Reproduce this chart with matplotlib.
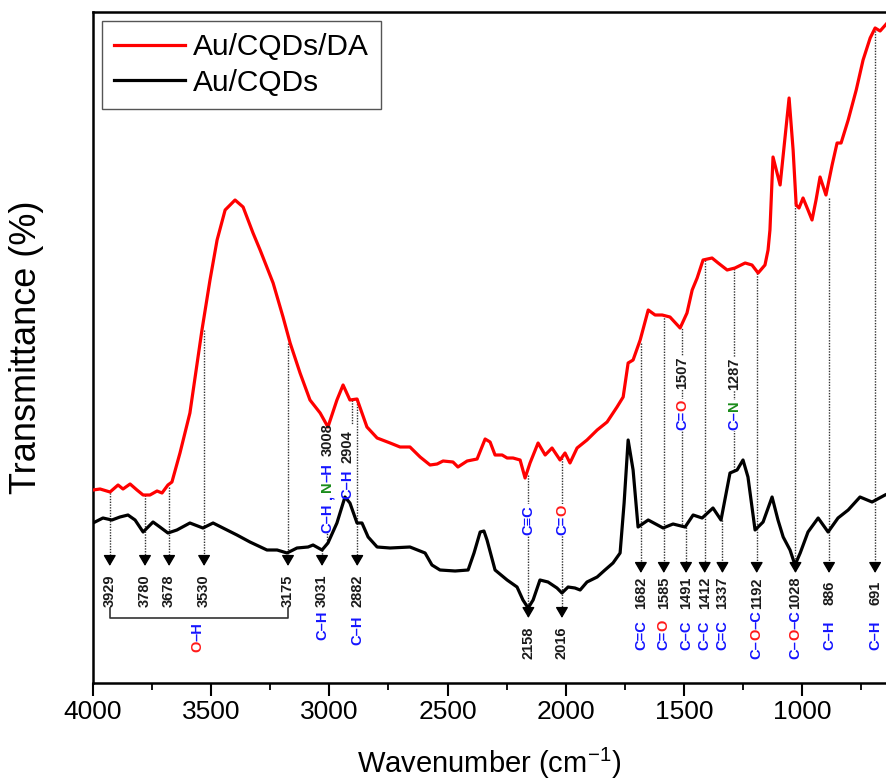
import matplotlib
matplotlib.use('Agg')
import matplotlib.pyplot as plt
from matplotlib.ticker import MultipleLocator

plt.rcParams['font.family'] = ['Liberation Sans', 'DejaVu Sans']
plt.rcParams['mathtext.fontset'] = 'custom'
plt.rcParams['mathtext.rm'] = 'Liberation Sans'

# Au/CQDs/DA (red) spectrum
red_wn = [4000, 3970, 3928, 3894, 3873, 3843, 3814, 3788, 3759, 3729, 3708, 3683, 3666,
          3632, 3590, 3539, 3505, 3475, 3441, 3399, 3365, 3323, 3293, 3238, 3196, 3166,
          3124, 3082, 3039, 3006, 2968, 2942, 2913, 2883, 2841, 2798, 2743, 2701, 2659,
          2616, 2574, 2544, 2519, 2477, 2456, 2417, 2375, 2341, 2320, 2299, 2269, 2248,
          2223, 2193, 2172, 2151, 2117, 2087, 2058, 2024, 2003, 1982, 1952, 1910, 1867,
          1825, 1783, 1757, 1736, 1715, 1685, 1651, 1622, 1592, 1559, 1516, 1487, 1465,
          1444, 1419, 1381, 1355, 1317, 1284, 1241, 1212, 1186, 1157, 1144, 1136, 1123,
          1093, 1072, 1055, 1038, 1025, 1013, 996, 975, 958, 941, 924, 899, 873, 852,
          835, 805, 771, 742, 712, 691, 670, 640]
red_t = [193, 194, 191, 198, 194, 199, 193, 188, 188, 192, 190, 198, 201,
         230, 270, 353, 403, 443, 473, 483, 476, 450, 433, 400, 366, 340,
         310, 283, 270, 256, 283, 298, 283, 284, 256, 245, 240, 236, 236,
         226, 218, 219, 222, 221, 216, 222, 224, 244, 241, 228, 228, 225,
         225, 223, 205, 220, 240, 228, 235, 223, 230, 220, 235, 243, 253,
         261, 276, 286, 320, 323, 343, 373, 368, 368, 366, 355, 370, 393,
         405, 423, 425, 420, 413, 415, 420, 418, 410, 418, 433, 453, 526,
         498, 546, 585, 533, 478, 475, 485, 473, 463, 483, 506, 488, 518, 540,
         540, 563, 593, 623, 645, 655, 652, 660]

# Au/CQDs (black) spectrum
blk_wn = [4000, 3958, 3920, 3886, 3852, 3822, 3788, 3746, 3717, 3683, 3645, 3590, 3535,
          3492, 3450, 3391, 3336, 3264, 3221, 3179, 3137, 3090, 3069, 3031, 3006, 2968,
          2934, 2913, 2883, 2862, 2836, 2798, 2743, 2659, 2595, 2566, 2532, 2468, 2413,
          2388, 2362, 2346, 2333, 2299, 2248, 2206, 2181, 2159, 2138, 2109, 2075, 2037,
          2016, 1990, 1961, 1939, 1910, 1867, 1834, 1800, 1770, 1753, 1736, 1715, 1694,
          1651, 1588, 1546, 1495, 1461, 1423, 1377, 1343, 1305, 1275, 1250, 1229, 1199,
          1165, 1127, 1102, 1080, 1051, 1030, 1008, 975, 932, 890, 848, 805, 755, 704, 649]
blk_t = [160, 165, 163, 166, 168, 163, 151, 161, 156, 150, 153, 160, 155,
         160, 155, 148, 141, 133, 133, 130, 135, 136, 138, 133, 140, 160,
         186, 180, 160, 160, 146, 136, 135, 136, 130, 118, 113, 112, 113,
         130, 151, 152, 143, 113, 103, 96, 83, 75, 83, 103, 101, 95,
         90, 96, 95, 93, 101, 106, 113, 120, 130, 180, 243, 213, 156,
         163, 155, 159, 156, 168, 165, 175, 163, 210, 213, 223, 206, 153,
         161, 186, 163, 146, 133, 118, 130, 151, 165, 151, 165, 173, 186, 181, 188]

# peaks marked with a downward arrow: wavenumber, where the dotted line starts, bond
arrow_wn = [3929, 3780, 3678, 3530, 3175, 3031, 2882, 2158, 2016,
            1682, 1585, 1491, 1412, 1337, 1192, 1028, 886, 691]
arrow_top = [193, 188, 196, 353, 340, 133, 285, 208, 225,
             340, 368, 156, 423, 163, 410, 481, 485, 655]
arrow_bond = ['', '', '', '', '', 'C–H', 'C–H', 'C≡C', 'C=O',
              'C=C', 'C=O', 'C–C', 'C–C', 'C=C', 'C–O–C', 'C–O–C', 'C–H', 'C–H']

# labels sitting between the two curves
mid_wn = [3008, 2904, 1507, 1287]
mid_label = ['C–H , N–H  3008', 'C–H  2904', 'C=O   1507', 'C–N   1287']
mid_red = [256, 283, 355, 415]
mid_blk = [140, 186, 156, 213]

BLUE = '#1414ff'
RED = '#ff1a1a'
GREEN = '#1a8c1a'
DARK = '#1a1a1a'
DOT = dict(color='#333333', lw=1.0, ls=(0, (1, 1)), zorder=1)


def color_of(ch):
    if ch == 'O':
        return RED
    if ch == 'N':
        return GREEN
    if ch.isdigit():
        return DARK
    return BLUE


def runs_of(label):
    out = []
    gap = 0
    for ch in label:
        if ch == ' ':
            gap += 2.5
            continue
        c = color_of(ch)
        if out and out[-1][1] == c and gap == 0:
            out[-1][0] += ch
        else:
            out.append([ch, c, gap])
            gap = 0
    return out


def vlabel(x, y0, label, mask=False, size=10.5):
    prev = None
    for s, c, gap in runs_of(label):
        kw = dict(rotation=90, ha='center', va='bottom', color=c, fontsize=size,
                  fontweight='bold', zorder=5)
        if mask:
            kw['bbox'] = dict(fc='white', ec='none', pad=0.6)
        if prev is None:
            prev = ax.text(x, y0, s, **kw)
        else:
            prev = ax.annotate(s, xy=(0.5, 1), xycoords=prev, xytext=(0, gap),
                               textcoords='offset points', **kw)


fig = plt.figure(figsize=(8.86, 7.83), dpi=100)
ax = fig.add_axes([93 / 886, 100 / 783, 793 / 886, 671 / 783])

ax.plot(red_wn, red_t, color='#ff0000', lw=2.3, label='Au/CQDs/DA',
        solid_joinstyle='round', zorder=3)
ax.plot(blk_wn, blk_t, color='black', lw=2.3, label='Au/CQDs',
        solid_joinstyle='round', zorder=3)

# arrows down to the number labels
for wn, top, bond in zip(arrow_wn, arrow_top, arrow_bond):
    if wn in (2158, 2016):
        tip, num_y = 65, 40
    elif wn > 2800:
        tip, num_y = 117, 92
    else:
        tip, num_y = 110, 90
    ax.plot([wn, wn], [top, tip + 4], **DOT)
    ax.annotate('', xy=(wn, tip), xytext=(wn, tip + 10),
                arrowprops=dict(arrowstyle='-|>,head_length=0.65,head_width=0.38',
                                color='black', lw=1, shrinkA=0, shrinkB=0), zorder=4)
    ax.text(wn, num_y, str(wn), rotation=90, ha='center', va='center',
            fontsize=10.5, fontweight='bold', color=DARK, zorder=5)
    if not bond:
        continue
    if wn in (2158, 2016):
        vlabel(wn, 148, bond, mask=True)
    elif wn in (1192, 1028):
        vlabel(wn, 24, bond)
    elif wn == 3031:
        vlabel(wn, 43, bond)
    elif wn == 2882:
        vlabel(wn, 38, bond)
    else:
        vlabel(wn, 33, bond)

# O-H bracket under the first five peaks
ax.plot([3929, 3929, 3175, 3175], [75, 65, 65, 75], color='#333333', lw=1.2, zorder=2)
vlabel(3560, 31, 'O–H')

# labels between the curves
for wn, lab, ytop, ybot in zip(mid_wn, mid_label, mid_red, mid_blk):
    if wn == 3008:
        ax.plot([wn, wn], [ybot, 152], **DOT)
        vlabel(3008, 150, lab)
    elif wn == 2904:
        ax.plot([wn, wn], [ytop, 258], **DOT)
        vlabel(2922, 184, lab)
    else:
        ax.plot([wn, wn], [ybot, ytop], **DOT)
        vlabel(wn, 253, lab, mask=True)

ax.set_xlim(4000, 645)
ax.set_ylim(0, 671)
ax.set_yticks([])
ax.xaxis.set_major_locator(MultipleLocator(500))
ax.xaxis.set_minor_locator(MultipleLocator(250))
ax.tick_params(axis='x', which='major', direction='out', length=9, width=1.5,
               labelsize=19, pad=3)
ax.tick_params(axis='x', which='minor', direction='out', length=5, width=1.3)
for side in ('left', 'top', 'bottom'):
    ax.spines[side].set_linewidth(1.8)
ax.spines['right'].set_visible(False)

ax.set_xlabel('Wavenumber (cm$^{-1}$)', fontsize=21)
ax.xaxis.set_label_coords(0.5, -0.094)
ax.set_ylabel('Transmittance (%)', fontsize=26)
ax.yaxis.set_label_coords(-0.062, 0.5)

leg = ax.legend(loc='upper left', bbox_to_anchor=(0.011, 0.986), fontsize=21.5,
                fancybox=False, edgecolor='#555555', framealpha=1,
                handlelength=2.4, handletextpad=0.25, borderpad=0.4,
                labelspacing=0.25, borderaxespad=0)
leg.get_frame().set_linewidth(1.0)

fig.savefig('out.png', dpi=100)
